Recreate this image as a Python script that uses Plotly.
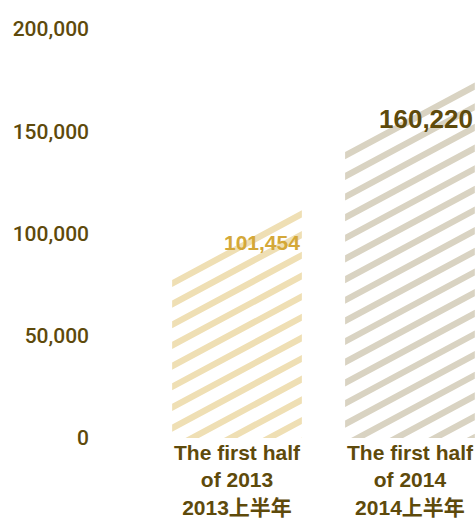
import plotly.graph_objects as go

# ---- data ----
categories = ["The first half<br>of 2013<br>2013上半年", "The first half<br>of 2014<br>2014上半年"]
values = [101454, 160220]
value_labels = ["101,454", "160,220"]
y_ticks = [0, 50000, 100000, 150000, 200000]

# ---- style ----
stripe_colors = ["#efdfb4", "#d9d3c2"]
label_colors = ["#d4a838", "#5e4a0b"]
label_sizes = [21, 26]
label_yshift = [2, 8]
top_frac = [0.71, 0.60]   # fraction along each bar where its slanted top meets the value
TEXT_COLOR = "#5e4a0b"
FONT = "Liberation Sans, Arial, Noto Sans CJK SC, sans-serif"
TICK_FONT = "Roboto, Liberation Sans, Arial, sans-serif"

BAR_W = 0.75      # bar width in category units
RISE = 34000      # slant of the bar top across the bar width
PERIOD = 10100    # stripe period (value units)
THICK = 3500      # stripe thickness (value units)


def clip_poly(pts):
    """Clip polygon to y >= 0."""
    out = []
    n = len(pts)
    for i in range(n):
        p, q = pts[i], pts[(i + 1) % n]
        pin, qin = p[1] >= 0, q[1] >= 0
        if pin:
            out.append(p)
        if pin != qin:
            t = p[1] / (p[1] - q[1])
            out.append((p[0] + t * (q[0] - p[0]), 0.0))
    return out


fig = go.Figure()

for i, v in enumerate(values):
    xl, xr = i - BAR_W / 2, i + BAR_W / 2
    top_left = v - top_frac[i] * RISE
    xs, ys = [], []
    k = 0
    while True:
        up = top_left - k * PERIOD
        lo = up - THICK
        if up + RISE <= 0:
            break
        poly = [(xl, lo), (xr, lo + RISE), (xr, up + RISE), (xl, up)]
        poly = clip_poly(poly)
        if len(poly) >= 3:
            for (px, py) in poly:
                xs.append(px)
                ys.append(py)
            xs.append(poly[0][0])
            ys.append(poly[0][1])
            xs.append(None)
            ys.append(None)
        k += 1
    fig.add_trace(go.Scatter(
        x=xs, y=ys, mode="lines", fill="toself", fillcolor=stripe_colors[i],
        line=dict(width=0, color=stripe_colors[i]), hoverinfo="skip",
        showlegend=False, connectgaps=False,
    ))
    fig.add_annotation(
        x=xr, y=v, xanchor="right", yanchor="top", text=value_labels[i],
        showarrow=False, yshift=label_yshift[i],
        font=dict(family=FONT, size=label_sizes[i], color=label_colors[i], weight="bold"),
    )

fig.update_layout(
    width=475, height=519,
    margin=dict(l=90, r=0, t=29, b=81),
    paper_bgcolor="white", plot_bgcolor="white",
    showlegend=False,
    xaxis=dict(
        range=[-0.85, 1.376], tickvals=[0, 1], ticktext=categories,
        showgrid=False, zeroline=False, showline=False, ticks="",
        tickfont=dict(family=FONT, size=21, color=TEXT_COLOR, weight="bold"),
        fixedrange=True,
    ),
    yaxis=dict(
        range=[0, 200000], tickvals=y_ticks, tickformat=",d",
        showgrid=False, zeroline=False, showline=False, ticks="",
        tickfont=dict(family=TICK_FONT, size=21, color=TEXT_COLOR, weight=500),
        fixedrange=True,
    ),
)

fig.write_html(
    "out.html",
    config={"displayModeBar": False},
    post_script="document.body.style.margin='0';document.body.style.overflow='hidden';",
)
